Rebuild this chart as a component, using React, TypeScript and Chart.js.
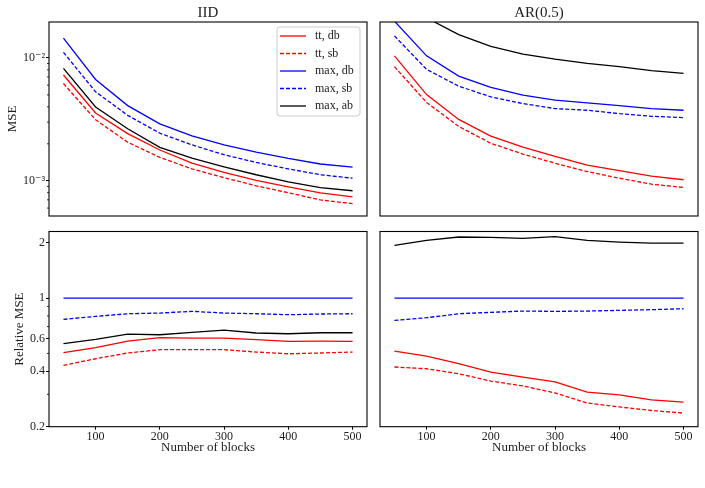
import React, { useEffect, useRef } from "react";
import { Chart, registerables } from "chart.js";

Chart.register(...registerables);

// ---------- data ----------
const blocks = [50, 100, 150, 200, 250, 300, 350, 400, 450, 500];
const xTickValues = [100, 200, 300, 400, 500];

const seriesLabels = ["tt, db", "tt, sb", "max, db", "max, sb", "max, ab"];
const seriesColors = ["#ff0000", "#ff0000", "#0000ff", "#0000ff", "#000000"];
const seriesDashed = [false, true, false, true, false];

// IID, MSE
const iidTtDb = [7.26e-3, 3.56e-3, 2.42e-3, 1.78e-3, 1.39e-3, 1.17e-3, 1.01e-3, 8.93e-4, 7.98e-4, 7.4e-4];
const iidTtSb = [6.19e-3, 3.14e-3, 2.06e-3, 1.55e-3, 1.25e-3, 1.06e-3, 9.1e-4, 8.0e-4, 6.98e-4, 6.52e-4];
const iidMaxDb = [1.45e-2, 6.68e-3, 4.09e-3, 2.91e-3, 2.32e-3, 1.96e-3, 1.71e-3, 1.52e-3, 1.37e-3, 1.29e-3];
const iidMaxSb = [1.11e-2, 5.3e-3, 3.41e-3, 2.44e-3, 1.96e-3, 1.63e-3, 1.41e-3, 1.25e-3, 1.12e-3, 1.05e-3];
const iidMaxAb = [8.23e-3, 3.99e-3, 2.65e-3, 1.87e-3, 1.53e-3, 1.3e-3, 1.12e-3, 9.8e-4, 8.8e-4, 8.3e-4];

// AR(0.5), MSE
const arTtDb = [1.04e-2, 5.03e-3, 3.16e-3, 2.31e-3, 1.88e-3, 1.58e-3, 1.34e-3, 1.21e-3, 1.09e-3, 1.02e-3];
const arTtSb = [8.49e-3, 4.34e-3, 2.77e-3, 2.02e-3, 1.65e-3, 1.39e-3, 1.19e-3, 1.05e-3, 9.39e-4, 8.82e-4];
const arMaxDb = [1.99e-2, 1.04e-2, 7.12e-3, 5.75e-3, 4.97e-3, 4.53e-3, 4.31e-3, 4.09e-3, 3.87e-3, 3.75e-3];
const arMaxSb = [1.51e-2, 8.07e-3, 5.89e-3, 4.82e-3, 4.25e-3, 3.87e-3, 3.75e-3, 3.52e-3, 3.35e-3, 3.27e-3];
const arMaxAb = [3.85e-2, 2.12e-2, 1.545e-2, 1.239e-2, 1.072e-2, 9.76e-3, 9.04e-3, 8.49e-3, 7.87e-3, 7.48e-3];

// IID, relative MSE
const iidRelTtDb = [0.505, 0.538, 0.584, 0.609, 0.606, 0.606, 0.594, 0.582, 0.584, 0.582];
const iidRelTtSb = [0.431, 0.468, 0.503, 0.524, 0.524, 0.524, 0.509, 0.498, 0.503, 0.509];
const iidRelMaxDb = [1, 1, 1, 1, 1, 1, 1, 1, 1, 1];
const iidRelMaxSb = [0.766, 0.795, 0.822, 0.829, 0.847, 0.829, 0.822, 0.812, 0.819, 0.822];
const iidRelMaxAb = [0.565, 0.596, 0.637, 0.632, 0.651, 0.67, 0.646, 0.64, 0.648, 0.648];

// AR(0.5), relative MSE
const arRelTtDb = [0.515, 0.484, 0.44, 0.396, 0.372, 0.35, 0.308, 0.298, 0.28, 0.272];
const arRelTtSb = [0.422, 0.413, 0.388, 0.354, 0.333, 0.305, 0.269, 0.256, 0.245, 0.237];
const arRelMaxDb = [1, 1, 1, 1, 1, 1, 1, 1, 1, 1];
const arRelMaxSb = [0.756, 0.782, 0.822, 0.836, 0.85, 0.847, 0.85, 0.857, 0.865, 0.875];
const arRelMaxAb = [1.934, 2.059, 2.147, 2.138, 2.111, 2.156, 2.059, 2.016, 1.991, 1.991];

// axes
const xRange = [27.5, 522.5];
const mseRange = [5.17e-4, 0.0196];
const mseTickValues = [0.01, 0.001];
const mseTickLabels = ["10⁻²", "10⁻³"];
const mseMinorTicks = [6e-4, 7e-4, 8e-4, 9e-4, 2e-3, 3e-3, 4e-3, 5e-3, 6e-3, 7e-3, 8e-3, 9e-3];
const relRange = [0.2, 2.3];
const relTickValues = [2, 1, 0.6, 0.4, 0.2];
const relTickLabels = ["2", "1", "0.6", "0.4", "0.2"];
const relMinorTicks = [0.3, 0.5, 0.7, 0.8, 0.9];

const FONT = "'Liberation Serif', 'DejaVu Serif', serif";
const TEXT = "#222";

type PanelProps = {
  left: number;
  top: number;
  width: number;
  height: number;
  padding: { left: number; right: number; top: number; bottom: number };
  title?: string;
  showY: boolean;
  showX: boolean;
  yRange: number[];
  yTicks: number[];
  yLabels: string[];
  yMinor: number[];
  yTitle: string;
  yTitlePad: number;
  series: number[][];
  legend: boolean;
};

function Panel(p: PanelProps) {
  const ref = useRef<HTMLCanvasElement | null>(null);

  useEffect(() => {
    if (!ref.current) return;

    const labelFor = (v: number) => {
      for (let i = 0; i < p.yTicks.length; i++) {
        if (Math.abs(p.yTicks[i] - v) <= Math.abs(v) * 1e-6) return p.yLabels[i];
      }
      return "";
    };

    const deco = {
      id: "deco",
      afterDraw(chart: any) {
        const ctx = chart.ctx as CanvasRenderingContext2D;
        const a = chart.chartArea;
        ctx.save();
        // minor ticks
        if (p.showY) {
          const ys = chart.scales.y;
          ctx.strokeStyle = "#000";
          ctx.lineWidth = 0.8;
          p.yMinor.forEach((v) => {
            const py = ys.getPixelForValue(v);
            ctx.beginPath();
            ctx.moveTo(a.left - 2, py);
            ctx.lineTo(a.left, py);
            ctx.stroke();
          });
        }
        // frame
        ctx.strokeStyle = "#000";
        ctx.lineWidth = 1.1;
        ctx.strokeRect(a.left, a.top, a.right - a.left, a.bottom - a.top);
        // title
        if (p.title) {
          ctx.fillStyle = TEXT;
          ctx.font = `15px ${FONT}`;
          ctx.textAlign = "center";
          ctx.textBaseline = "middle";
          ctx.fillText(p.title, (a.left + a.right) / 2, 13);
        }
        // legend
        if (p.legend) {
          const bx = 277, by = 27, bw = 83, bh = 89, r = 3;
          ctx.beginPath();
          ctx.moveTo(bx + r, by);
          ctx.lineTo(bx + bw - r, by);
          ctx.arcTo(bx + bw, by, bx + bw, by + r, r);
          ctx.lineTo(bx + bw, by + bh - r);
          ctx.arcTo(bx + bw, by + bh, bx + bw - r, by + bh, r);
          ctx.lineTo(bx + r, by + bh);
          ctx.arcTo(bx, by + bh, bx, by + bh - r, r);
          ctx.lineTo(bx, by + r);
          ctx.arcTo(bx, by, bx + r, by, r);
          ctx.closePath();
          ctx.fillStyle = "rgba(255,255,255,0.8)";
          ctx.fill();
          ctx.strokeStyle = "#cccccc";
          ctx.lineWidth = 1;
          ctx.stroke();
          ctx.font = `12px ${FONT}`;
          ctx.textAlign = "left";
          ctx.textBaseline = "middle";
          seriesLabels.forEach((lab, i) => {
            const ry = 36 + i * 17.5;
            ctx.strokeStyle = seriesColors[i];
            ctx.lineWidth = 1.3;
            ctx.setLineDash(seriesDashed[i] ? [4, 2] : []);
            ctx.beginPath();
            ctx.moveTo(280, ry);
            ctx.lineTo(306, ry);
            ctx.stroke();
            ctx.setLineDash([]);
            ctx.fillStyle = TEXT;
            ctx.fillText(lab, 315, ry);
          });
        }
        ctx.restore();
      },
    };

    const datasets = p.series.map((arr, i) => ({
      label: seriesLabels[i],
      data: blocks.map((b, j) => ({ x: b, y: arr[j] })),
      borderColor: seriesColors[i],
      backgroundColor: seriesColors[i],
      borderWidth: 1.3,
      borderDash: seriesDashed[i] ? [4, 2] : [],
      pointRadius: 0,
      tension: 0,
      fill: false,
    }));

    const chart = new Chart(ref.current, {
      type: "line",
      data: { datasets },
      options: {
        responsive: false,
        animation: false,
        devicePixelRatio: 1,
        events: [],
        layout: { padding: p.padding },
        plugins: {
          legend: { display: false },
          tooltip: { enabled: false },
          title: { display: false },
        },
        scales: {
          x: {
            type: "linear",
            display: p.showX,
            min: xRange[0],
            max: xRange[1],
            afterBuildTicks: (s: any) => {
              s.ticks = xTickValues.map((v) => ({ value: v }));
            },
            afterFit: (s: any) => {
              s.height = p.showX ? 30 : 0;
              s.paddingLeft = 0;
              s.paddingRight = 0;
            },
            ticks: {
              autoSkip: false,
              maxRotation: 0,
              padding: 0,
              color: TEXT,
              font: { family: FONT, size: 12 },
              callback: (v: any) => String(v),
            },
            grid: { drawOnChartArea: false, drawTicks: true, tickLength: 3, color: "#000", lineWidth: 1 },
            border: { display: false },
            title: {
              display: true,
              text: "Number of blocks",
              color: TEXT,
              font: { family: FONT, size: 13 },
              padding: { top: 0, bottom: 1 },
            },
          },
          y: {
            type: "logarithmic",
            display: p.showY,
            min: p.yRange[0],
            max: p.yRange[1],
            afterBuildTicks: (s: any) => {
              s.ticks = p.yTicks.map((v) => ({ value: v }));
            },
            afterFit: (s: any) => {
              s.width = p.showY ? 49 : 0;
              s.paddingTop = 0;
              s.paddingBottom = 0;
            },
            ticks: {
              autoSkip: false,
              padding: 1,
              color: TEXT,
              font: { family: FONT, size: 12 },
              callback: (v: any) => labelFor(Number(v)),
            },
            grid: { drawOnChartArea: false, drawTicks: true, tickLength: 3, color: "#000", lineWidth: 1 },
            border: { display: false },
            title: {
              display: true,
              text: p.yTitle,
              color: TEXT,
              font: { family: FONT, size: 13 },
              padding: { top: p.yTitlePad, bottom: 0 },
            },
          },
        },
      } as any,
      plugins: [deco as any],
    });

    return () => chart.destroy();
  }, []);

  return (
    <canvas
      ref={ref}
      width={p.width}
      height={p.height}
      style={{ position: "absolute", left: p.left, top: p.top, width: p.width, height: p.height, display: "block" }}
    />
  );
}

export default function App() {
  return (
    <div style={{ position: "absolute", left: 0, top: 0, width: 705, height: 488, background: "#fff", overflow: "hidden" }}>
      <Panel
        left={0}
        top={0}
        width={372}
        height={224}
        padding={{ left: 0, right: 5, top: 22, bottom: 8 }}
        title="IID"
        showY={true}
        showX={false}
        yRange={mseRange}
        yTicks={mseTickValues}
        yLabels={mseTickLabels}
        yMinor={mseMinorTicks}
        yTitle="MSE"
        yTitlePad={4.7}
        series={[iidTtDb, iidTtSb, iidMaxDb, iidMaxSb, iidMaxAb]}
        legend={true}
      />
      <Panel
        left={372}
        top={0}
        width={333}
        height={224}
        padding={{ left: 8, right: 7, top: 22, bottom: 8 }}
        title="AR(0.5)"
        showY={false}
        showX={false}
        yRange={mseRange}
        yTicks={mseTickValues}
        yLabels={mseTickLabels}
        yMinor={mseMinorTicks}
        yTitle="MSE"
        yTitlePad={4.7}
        series={[arTtDb, arTtSb, arMaxDb, arMaxSb, arMaxAb]}
        legend={false}
      />
      <Panel
        left={0}
        top={224}
        width={372}
        height={264}
        padding={{ left: 0, right: 5, top: 7.5, bottom: 31.3 }}
        showY={true}
        showX={true}
        yRange={relRange}
        yTicks={relTickValues}
        yLabels={relTickLabels}
        yMinor={relMinorTicks}
        yTitle="Relative MSE"
        yTitlePad={12.2}
        series={[iidRelTtDb, iidRelTtSb, iidRelMaxDb, iidRelMaxSb, iidRelMaxAb]}
        legend={false}
      />
      <Panel
        left={372}
        top={224}
        width={333}
        height={264}
        padding={{ left: 8, right: 7, top: 7.5, bottom: 31.3 }}
        showY={false}
        showX={true}
        yRange={relRange}
        yTicks={relTickValues}
        yLabels={relTickLabels}
        yMinor={relMinorTicks}
        yTitle="Relative MSE"
        yTitlePad={12.2}
        series={[arRelTtDb, arRelTtSb, arRelMaxDb, arRelMaxSb, arRelMaxAb]}
        legend={false}
      />
    </div>
  );
}
